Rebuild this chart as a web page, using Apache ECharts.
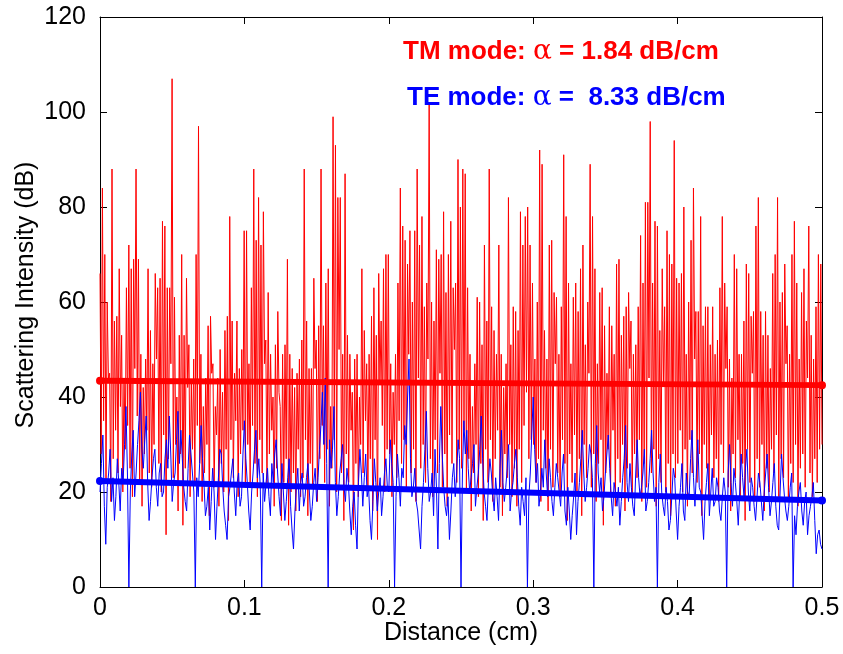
<!DOCTYPE html>
<html>
<head>
<meta charset="utf-8">
<script src="https://cdn.jsdelivr.net/npm/echarts@6/dist/echarts.min.js"></script>
<style>
html,body{margin:0;padding:0;background:#fff;}
#c{width:843px;height:654px;}
</style>
</head>
<body>
<div id="c"></div>
<script>
// ---- data ----
const xMax = 0.5;                       // Distance (cm) span
const xTicks = [0, 0.1, 0.2, 0.3, 0.4, 0.5];
const yTicks = [0, 20, 40, 60, 80, 100, 120];

// TM mode raw scattering intensity (dB), evenly spaced along 0..0.5 cm
const tmIntensity = [
66,28,84,35,70,22,60,44,45,18,88,27,56,33,57,24,67,38,53,20,44,29,63,34,72,25,67,19,69,46,88,36,69,22,49,17,42,28,48,33,67,24,54,21,47,30,66,48,63,26,65,20,77,32,76,11,63,27,63,47,107,23,61,30,40,16,53,28,70,13,53,25,65,42,51,19,43,29,48,22,70,34,97,26,49,18,38,24,44,30,55,15,57,45,47,21,38,32,44,17,50,26,41,20,54,29,57,14,78,31,56,23,45,35,56,19,46,28,50,33,75,21,
75,30,47,22,63,34,88,26,73,19,82,31,72,24,79,47,52,21,62,28,49,33,40,17,51,25,58,41,38,14,49,22,51,27,69,13,49,20,46,24,42,16,45,29,48,19,52,23,88,31,56,15,46,26,46,21,65,46,52,18,55,27,88,34,55,22,64,29,67,17,38,25,99,31,93,20,82,50,82,24,49,14,87,28,53,22,49,33,41,12,48,26,49,19,40,30,67,24,54,35,47,21,49,27,57,16,63,31,53,10,66,43,56,34,67,20,70,29,
70,28,47,19,41,30,49,23,64,35,84,26,76,31,73,20,68,49,75,24,60,29,75,18,88,44,72,25,78,30,59,22,64,48,102,27,60,19,56,31,71,24,69,45,70,21,79,28,62,17,70,32,77,26,63,50,64,22,90,29,80,25,88,33,87,20,63,27,49,16,38,24,47,30,61,19,60,26,51,14,72,29,56,22,88,31,59,18,54,27,49,33,72,21,49,15,42,28,47,23,82,30,51,19,59,25,58,17,54,29,79,22,72,34,78,41,80,27,72,31,
64,30,48,22,60,27,92,18,89,33,54,25,48,16,72,29,73,21,62,47,61,24,49,19,59,31,91,26,78,14,64,28,47,22,61,32,64,20,58,27,67,15,72,30,51,23,60,45,89,21,78,28,67,18,47,26,62,31,63,13,55,24,45,29,59,20,55,33,49,17,68,27,69,22,53,30,57,16,59,25,62,46,56,19,49,28,51,23,59,31,74,18,64,26,81,21,81,44,98,24,64,29,77,17,76,27,54,22,67,43,59,20,75,26,70,15,68,28,94,23,
65,26,64,33,66,20,80,29,49,17,60,31,73,24,84,48,58,22,58,28,78,15,55,30,59,25,59,19,51,32,59,23,49,27,52,18,63,30,78,24,64,46,59,21,48,16,44,28,70,23,67,31,49,19,49,26,56,14,68,29,66,22,57,45,58,18,76,27,82,21,58,30,53,16,58,25,53,20,46,29,66,24,70,32,82,19,60,27,62,23,68,47,55,18,49,26,70,22,77,30,64,17,48,25,62,28,67,21,56,44,76,24,53,19,48,27,59,22,70,29,68,30
];

// TE mode raw scattering intensity (dB), evenly spaced along 0..0.5 cm
const teIntensity = [
20,26,32,17,9,21,24,29,18,23,14,19,27,22,16,25,22,30,38,24,0,20,28,33,19,24,30,35,41,29,25,31,36,22,14,18,23,27,29,21,17,24,26,19,20,27,31,25,36,28,18,22,24,31,37,26,33,27,21,18,16,25,32,28,24,20,0,23,19,26,34,27,22,15,17,21,12,18,25,20,10,17,23,29,28,21,16,13,10,19,21,24,27,20,15,22,24,17,19,28,
35,27,22,16,12,20,24,29,33,23,27,21,0,24,18,22,25,19,15,26,22,28,31,24,19,15,26,20,14,18,23,27,17,12,8,16,21,25,16,22,24,17,19,23,26,20,14,17,22,25,18,23,29,34,41,30,44,26,0,31,25,29,38,22,15,19,24,27,30,21,18,25,22,16,11,17,20,13,8,22,29,24,17,23,28,19,21,14,10,18,27,22,16,20,23,15,19,24,27,21,
20,31,26,22,0,19,28,23,17,25,23,34,30,40,48,27,19,21,25,18,16,12,8,17,22,29,37,25,18,20,24,15,29,21,8,26,38,28,21,17,15,19,10,16,23,26,19,24,31,27,0,24,35,28,33,25,20,23,26,30,17,21,24,29,36,27,20,17,14,22,27,24,19,16,23,19,14,25,33,22,18,21,25,30,16,20,22,26,29,23,17,13,21,18,15,23,0,19,24,32,
40,29,22,26,17,20,25,21,31,24,19,27,23,18,15,21,26,23,20,17,24,28,16,13,21,16,10,15,19,24,11,18,22,27,33,24,18,21,25,30,28,23,0,26,34,24,20,23,16,19,24,28,32,25,19,15,22,20,17,21,13,18,23,27,34,22,18,26,21,17,15,24,31,23,19,21,24,29,16,18,22,27,33,24,18,21,0,22,28,20,17,15,21,18,12,14,19,25,23,16,
10,17,21,26,16,14,24,20,19,27,33,23,17,24,31,21,20,15,10,18,22,26,15,20,25,17,18,23,21,16,14,19,23,20,0,24,30,22,17,25,22,18,13,20,28,23,19,25,29,20,16,23,21,17,14,19,24,22,18,14,20,24,28,21,15,18,22,26,17,13,12,20,28,23,19,16,14,17,21,24,0,15,11,17,20,22,16,13,18,20,11,15,17,19,22,14,7,11,12,9,8
];

// Linear attenuation fits (end values, dB)
const tmFit = [43.4, 42.5];
const teFit = [22.3, 18.2];

const tmLabel = ['TM mode: ', 'α', ' = 1.84 dB/cm'];
const teLabel = ['TE mode: ', 'α', ' =  8.33 dB/cm'];

// ---- build series data ----
function spread(vals) {
  const n = vals.length;
  return vals.map((v, i) => [i * xMax / (n - 1), v]);
}
const tmData = spread(tmIntensity);
const teData = spread(teIntensity);
const tmFitData = [[0, tmFit[0]], [xMax, tmFit[1]]];
const teFitData = [[0, teFit[0]], [xMax, teFit[1]]];

const FONT = 'Liberation Sans, Arial, Helvetica, sans-serif';
const chart = echarts.init(document.getElementById('c'), null, {renderer: 'canvas'});

const axisCommon = {
  axisLine: {show: true, onZero: false, lineStyle: {color: '#000', width: 1}},
  axisTick: {show: true, inside: true, length: 7, lineStyle: {color: '#000', width: 1}},
  splitLine: {show: false}
};

chart.setOption({
  animation: false,
  backgroundColor: '#fff',
  grid: {left: 100, right: 21, top: 17, bottom: 67, containLabel: false, outerBoundsMode: 'none', show: false},
  xAxis: [
    Object.assign({
      type: 'value', min: xTicks[0], max: xTicks[xTicks.length - 1], interval: 0.1, position: 'bottom',
      axisLabel: {show: true, margin: 9, fontSize: 25, fontFamily: FONT, color: '#000',
        formatter: v => (v === 0 ? '0' : v.toFixed(1))}
    }, axisCommon),
    Object.assign({
      type: 'value', min: xTicks[0], max: xTicks[xTicks.length - 1], interval: 0.1, position: 'top',
      axisLabel: {show: false}
    }, axisCommon)
  ],
  yAxis: [
    Object.assign({
      type: 'value', min: yTicks[0], max: yTicks[yTicks.length - 1], interval: 20, position: 'left',
      axisLabel: {show: true, margin: 14, fontSize: 25, fontFamily: FONT, color: '#000'}
    }, axisCommon),
    Object.assign({
      type: 'value', min: yTicks[0], max: yTicks[yTicks.length - 1], interval: 20, position: 'right',
      axisLabel: {show: false}
    }, axisCommon)
  ],
  series: [
    {type: 'line', name: 'TM', data: tmData, showSymbol: false, symbol: 'none',
     lineStyle: {color: '#ff0000', width: 1}, itemStyle: {color: '#ff0000'}, z: 2, silent: true},
    {type: 'line', name: 'TE', data: teData, showSymbol: false, symbol: 'none',
     lineStyle: {color: '#0000ff', width: 1}, itemStyle: {color: '#0000ff'}, z: 3, silent: true},
    {type: 'line', name: 'TM fit', data: tmFitData, symbol: 'circle', symbolSize: 8, showSymbol: true,
     lineStyle: {color: '#ff0000', width: 6}, itemStyle: {color: '#ff0000'}, z: 4, silent: true},
    {type: 'line', name: 'TE fit', data: teFitData, symbol: 'circle', symbolSize: 8, showSymbol: true,
     lineStyle: {color: '#0000ff', width: 6}, itemStyle: {color: '#0000ff'}, z: 5, silent: true}
  ],
  graphic: [
    {type: 'text', left: 403, top: 38, z: 10,
     style: {text: '{b|' + tmLabel[0] + '}{a|' + tmLabel[1] + '}{b|' + tmLabel[2] + '}',
       rich: {b: {fontSize: 26, fontWeight: 'bold', fontFamily: FONT, fill: '#ff0000'},
              a: {fontSize: 28, fontFamily: 'DejaVu Serif, serif', fill: '#ff0000'}}}},
    {type: 'text', left: 407, top: 84, z: 10,
     style: {text: '{b|' + teLabel[0] + '}{a|' + teLabel[1] + '}{b|' + teLabel[2] + '}',
       rich: {b: {fontSize: 26, fontWeight: 'bold', fontFamily: FONT, fill: '#0000ff'},
              a: {fontSize: 28, fontFamily: 'DejaVu Serif, serif', fill: '#0000ff'}}}},
    {type: 'text', x: 461, y: 633, z: 10,
     style: {text: 'Distance (cm)', fontSize: 25, fontFamily: FONT, fill: '#000', align: 'center', verticalAlign: 'middle'}},
    {type: 'text', x: 26, y: 295, rotation: Math.PI / 2, z: 10,
     style: {text: 'Scattering Intensity (dB)', fontSize: 25, fontFamily: FONT, fill: '#000', align: 'center', verticalAlign: 'middle'}}
  ]
});
</script>
</body>
</html>
